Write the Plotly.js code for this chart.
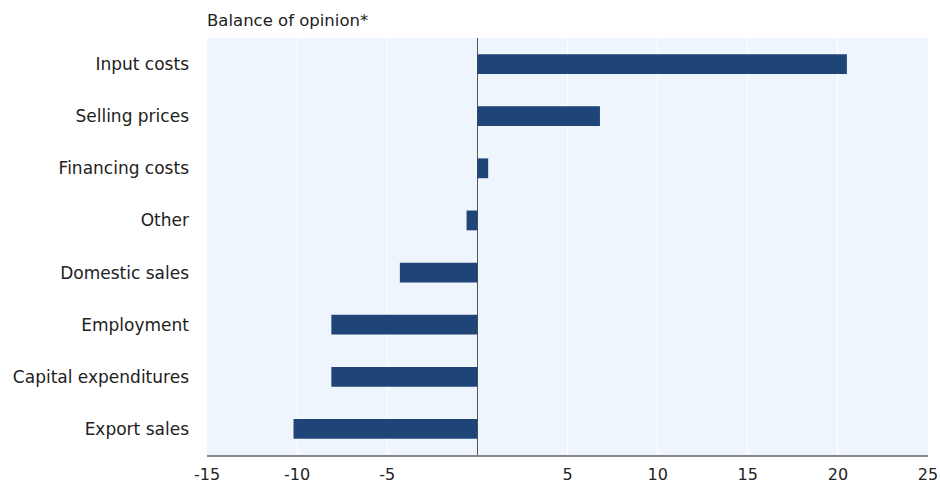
<!DOCTYPE html>
<html>
<head>
<meta charset="utf-8">
<script src="https://cdn.plot.ly/plotly-3.0.1.min.js"></script>
<style>html,body{margin:0;padding:0;background:#fff;}#chart{width:940px;height:487px;}</style>
</head>
<body>
<div id="chart"></div>
<script>
const categories = ["Input costs","Selling prices","Financing costs","Other","Domestic sales","Employment","Capital expenditures","Export sales"];
const values = [20.5, 6.8, 0.6, -0.6, -4.3, -8.1, -8.1, -10.2];
const xTickVals = [-15,-10,-5,5,10,15,20,25];
const xTickText = ["-15","-10","-5","5","10","15","20","25"];
const titleText = "Balance of opinion*";

const font = "DejaVu Sans, Verdana, sans-serif";
Plotly.newPlot("chart", [{
  type: "bar",
  orientation: "h",
  y: categories,
  x: values,
  width: 0.38,
  marker: {color: "#1f4477", line: {width: 0}},
  hoverinfo: "x+y"
}], {
  width: 940, height: 487,
  margin: {l: 207, r: 12, t: 38, b: 32},
  paper_bgcolor: "#ffffff",
  plot_bgcolor: "#eef5fd",
  showlegend: false,
  title: {text: titleText, x: 0, xanchor: "left", xref: "paper", y: 0.97, yanchor: "top",
          font: {family: font, size: 16.5, color: "#222"}},
  xaxis: {
    range: [-15, 25],
    tickvals: xTickVals, ticktext: xTickText,
    showgrid: true, gridcolor: "#ffffff", gridwidth: 1,
    zeroline: true, zerolinecolor: "#555555", zerolinewidth: 1.5,
    showline: true, linecolor: "#888888", linewidth: 2,
    ticks: "", ticklabelstandoff: 4,
    tickfont: {family: font, size: 16, color: "#222"},
    fixedrange: true
  },
  yaxis: {
    type: "category",
    autorange: "reversed",
    showgrid: false, zeroline: false, showline: false,
    ticks: "", ticklabelstandoff: 17,
    tickfont: {family: font, size: 17, color: "#222"},
    fixedrange: true
  },
  bargap: 0.6
}, {displayModeBar: false, staticPlot: true});
</script>
</body>
</html>
